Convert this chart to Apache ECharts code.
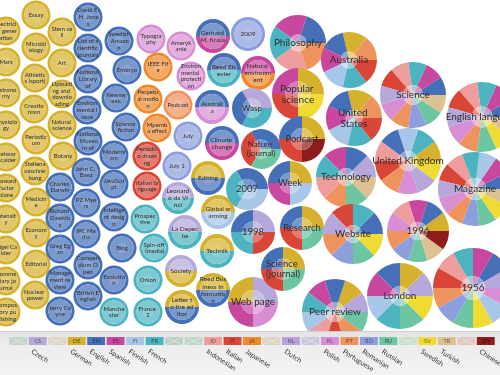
<!DOCTYPE html>
<html>
<head>
<meta charset="utf-8">
<script src="https://cdn.jsdelivr.net/npm/echarts@6/dist/echarts.min.js"></script>
<style>
  html, body { margin: 0; padding: 0; background: #fff; }
  #main { width: 500px; height: 375px; }
</style>
</head>
<body>
<div id="main"></div>
<script>
// one entry per topic circle: label, centre (x, y), radius, languages of its sectors
const topicNames = [
  'Electricity generation', 'Mars', 'Astronomy', 'Physiology', 'Network calder', 'Howard Factor plane', 'Intensity', 'Nigel Calder', 'Commentary journal', 'Compository publishing',
  'Essay', 'Microbiology', 'Athletics (sport)', 'Creationism', 'Periodicum', 'Stellenausschreibung', 'Medicine', 'Economy', 'Editorial', 'Nuclear power',
  'Stem cell', 'Art', 'Uploading and downloading', 'Natural science', 'Botany', 'Charles Darwin', 'Richard Dawkins', 'Greg Egan', 'Management review', 'Jerry Coyne',
  'David E. H. Jones', 'List of scientific journals', 'National Library of', 'Environmental issue', 'National Museum of', 'John C. Baez', 'PZ Myers', 'IPC Media', 'Compendium Open', 'British English',
  'Swedish Amazon', 'Embryo', 'Newsweek', 'Science fiction', 'Modernism', 'JavaScript', 'Intelligent design', 'Blog', 'Evolution', 'Manchester',
  'Typography', 'IEEE Fife', 'Perpetual motion', 'Mpemba effect', 'Periodico drawing', 'Italian language', 'Prospective', 'Spin-off (media)', 'Onion', 'France 2',
  'Amerykanie', 'Environmental protection', 'Podcast', 'July', 'July 1', 'Leonardo da Vinci', 'La Depeche', 'Society', 'Letter to the editor',
  'Gerhard M. Kraus', 'Reed Elsevier', 'Australia', 'Climate change', 'Editing', 'Global warming', 'Technik', 'Reed Business Information',
  '2009', 'Natural environment', 'Wasp', 'Nature (journal)', '2007', '1998', 'Web page',
  'Philosophy', 'Popular science', 'Podcast', 'Week', 'Research', 'Science (journal)', 'Peer review',
  'Australia', 'United States', 'Technology', 'Website',
  'Science', 'United Kingdom', '1996', 'London',
  'English language', 'Magazine', '1956'
];
const topicX = [
  6, 6, 6, 6, 6, 6, 6, 6, 6, 6,
  36, 36, 35, 34, 36, 35, 36, 36, 36, 35,
  62, 62, 62, 62, 63, 60, 60, 60, 60, 60,
  88, 88, 88, 87, 88, 86, 86, 86, 88, 88,
  119, 127, 116, 126, 114, 114, 114, 122, 114, 114,
  151, 158, 148, 157, 147, 147, 145, 154, 148, 148,
  181, 191, 178, 188, 177, 178, 185, 181, 182,
  213, 224, 212, 222, 208, 218, 217, 213,
  248, 258, 252, 261, 247, 253, 253,
  298, 298, 302, 290, 302, 283, 335,
  349, 354, 346, 353,
  413, 408, 418, 400,
  482, 475, 473
];
const topicY = [
  31, 62, 93, 125, 157, 188, 219, 250, 281, 312,
  15, 47, 78, 109, 140, 171, 202, 233, 264, 295,
  32, 63, 94, 125, 156, 187, 218, 249, 280, 311,
  17, 48, 79, 110, 141, 172, 203, 234, 265, 296,
  41, 70, 98, 127, 155, 184, 217, 248, 280, 312,
  39, 67, 99, 128, 156, 186, 219, 248, 280, 312,
  46, 76, 105, 136, 166, 198, 232, 271, 307,
  36, 70, 107, 143, 178, 212, 251, 290,
  34, 73, 108, 149, 189, 232, 302,
  43, 94, 139, 183, 228, 269, 312,
  60, 118, 177, 234,
  95, 161, 231, 296,
  117, 189, 288
];
const topicR = [
  14.5, 14.5, 14.5, 14.5, 14.5, 14.5, 14.5, 14.5, 14.5, 14.5,
  14.5, 14.5, 14.5, 14.5, 14.5, 14.5, 14.5, 14.5, 14.5, 14.5,
  14.5, 14.5, 14.5, 14.5, 14.5, 14.5, 14.5, 14.5, 14.5, 14.5,
  14.5, 14.5, 14.5, 14.5, 14.5, 14.5, 14.5, 14.5, 14.5, 14.5,
  14.5, 14.5, 14.5, 14.5, 14.5, 14.5, 14.5, 14.5, 14.5, 14.5,
  14.5, 14.5, 14.5, 14.5, 14.5, 14.5, 14.5, 14.5, 14.5, 14.5,
  14.5, 14.5, 14.5, 14.5, 14.5, 16, 17, 16, 17,
  17, 17, 17, 17, 17, 17, 17, 17,
  17, 17, 20, 20, 21, 22, 25,
  28, 26, 23, 22, 22, 22, 33,
  28, 28, 30, 30,
  33, 33, 31, 33,
  35, 37, 40
];
const DE = ['DE'], EN = ['EN'];
const topicLangs = [
  DE, DE, DE, DE, DE, DE, DE, DE, DE, DE,
  DE, DE, DE, DE, DE, DE, DE, DE, DE, DE,
  DE, DE, DE, DE, DE, EN, EN, EN, EN, EN,
  EN, EN, EN, EN, EN, EN, EN, EN, EN, EN,
  EN, EN, EN, EN, EN, EN, EN, EN, EN, ['FR'],
  ['PL'], ['JA'], ['JA'], ['JA'], ['IT'], ['IT'], ['FR'], ['FR'], ['FR'], ['FR'],
  ['PL'], ['PL'], ['PT'], ['RO'], ['RO'], ['CS', 'FR'], ['CS', 'FR'], ['CS', 'DE'], ['DE', 'EN'],
  ['EN', 'ES'], ['EN', 'FR'], ['EN', 'PL'], ['EN', 'ES'], ['DE', 'EN'], ['DE', 'FI'], ['DE', 'FR'], ['DE', 'EN'],
  ['RO'], ['ES', 'JA'], ['CS', 'EN', 'FR'], ['EN', 'IT', 'RU'], ['EN', 'FR', 'FI'], ['CS', 'EN', 'FR', 'IT'], ['CS', 'DE', 'ES', 'PL'],
  ['EN', 'ES', 'FR', 'ID', 'PT'], ['DE', 'ES', 'IT', 'SV'], ['DE', 'EN', 'IT', 'ZH'], ['DE', 'EN', 'ES', 'FI'], ['DE', 'EN', 'IT', 'RU'], ['DE', 'EN', 'IT', 'RU'],
  ['CS', 'DE', 'EN', 'ES', 'FR', 'FI', 'ID', 'IT', 'PT', 'RU'],
  ['PT', 'DE', 'EN', 'ES', 'FI', 'FR', 'IT'], ['PT', 'DE', 'EN', 'ES', 'FI', 'FR', 'IT'],
  ['CS', 'EN', 'ES', 'FR', 'ID', 'PT', 'RU', 'TR'], ['EN', 'FR', 'IT', 'CS', 'PT', 'RO', 'RU', 'SV'],
  ['EN', 'ES', 'FR', 'ID', 'IT', 'CS', 'PL', 'PT', 'RO', 'RU', 'TR'],
  ['DE', 'FR', 'FI', 'EN', 'ID', 'IT', 'PT', 'PL', 'CS', 'SV'],
  ['DE', 'EN', 'ES', 'ID', 'PL', 'PT', 'RO', 'RU', 'TR', 'ZH'],
  ['CS', 'DE', 'EN', 'ES', 'FI', 'FR', 'RU', 'SV'],
  ['EN', 'ES', 'FR', 'ID', 'IT', 'CS', 'PL', 'PT', 'RU', 'SV', 'TR'],
  ['EN', 'ES', 'FI', 'FR', 'ID', 'IT', 'CS', 'PL', 'PT', 'RO', 'RU', 'SV', 'TR'],
  ['CS', 'EN', 'ES', 'FR', 'ID', 'IT', 'PT', 'RO', 'RU', 'SV', 'FI', 'PL']
];

// legend slots (empty code = language without data)
const legendCodes = ['', 'CS', '', 'DE', 'EN', 'ES', 'FI', 'FR', '', '', 'ID', 'IT', 'JA', '', 'NL', '', 'PL', 'PT', 'RO', 'RU', '', 'SV', 'TR', '', 'ZH'];
const legendNames = ['', 'Czech', '', 'German', 'English', 'Spanish', 'Finnish', 'French', '', '', 'Indonesian', 'Italian', 'Japanese', '', 'Dutch', '', 'Polish', 'Portuguese', 'Romanian', 'Russian', '', 'Swedish', 'Turkish', '', 'Chinese'];

const langColor = {
  CS: '#b6a8da', DE: '#d6b12d', EN: '#4570b8', ES: '#c8489f', FI: '#a8c6e8', FR: '#4cb4c0',
  ID: '#ee9c9c', IT: '#d94638', JA: '#f0892c', NL: '#b8a0d8', PL: '#d88ed4', PT: '#ef935e',
  RO: '#8c9fdc', RU: '#6cc6a2', SV: '#f0da34', TR: '#dcc292', ZH: '#8e1c1c'
};
const emptyColors = ['#c3d5c9', '#ddd6c8', '#bcd0c6', '#c2d6c5', '#ddd3c4', '#c9c8db', '#c8dfcb', '#dfc8bf'];

function mix(hex, t, to) {
  const v = parseInt(hex.slice(1), 16);
  const tgt = to === undefined ? 255 : to;
  const ch = [(v >> 16) & 255, (v >> 8) & 255, v & 255].map((c) => Math.round(c + (tgt - c) * t));
  return 'rgb(' + ch.join(',') + ')';
}

function renderTopic(params, api) {
  const i = params.dataIndex;
  const c = api.coord([api.value(0), api.value(1)]);
  const r = api.size([api.value(2), 0])[0];
  const langs = topicLangs[i];
  const n = langs.length;
  const step = (Math.PI * 2) / n;
  const rin = n === 1 ? 0.8 : n === 2 ? 0.76 : n <= 4 ? 0.48 : 0.3;
  const children = [];
  langs.forEach((code, k) => {
    const col = langColor[code];
    const a0 = -(k + 1) * step, a1 = -k * step;
    children.push({
      type: 'sector',
      shape: { cx: c[0], cy: c[1], r0: r * rin, r: r, startAngle: a0, endAngle: a1, clockwise: true },
      style: { fill: col }
    });
    children.push({
      type: 'sector',
      shape: { cx: c[0], cy: c[1], r0: 0, r: r * rin, startAngle: a0, endAngle: a1, clockwise: true },
      style: { fill: mix(col, n > 4 ? 0.4 : 0.28) }
    });
  });
  children.push({
    type: 'circle',
    shape: { cx: c[0], cy: c[1], r: r * rin * 0.45 },
    style: { fill: 'rgba(255,255,255,0.12)' }
  });
  const fs = r < 16 ? 6 : r < 18 ? 6.5 : r < 21 ? 8 : r < 24 ? 9.5 : 10;
  const big = r >= 20;
  children.push({
    type: 'text',
    style: {
      text: topicNames[i],
      x: c[0], y: c[1],
      align: 'center', verticalAlign: 'middle',
      width: big ? r * 2.3 : r * 1.55,
      overflow: big ? 'break' : 'breakAll',
      lineHeight: fs * 1.1,
      font: fs + 'px Lato, sans-serif',
      fill: '#2e2e2e'
    }
  });
  return { type: 'group', children: children };
}

function renderLegend(params, api) {
  const i = params.dataIndex;
  const top = api.coord([i, 1]);
  const bot = api.coord([i, 0]);
  const bw = api.size([1, 0])[0];
  const x0 = top[0] - bw / 2 + 0.8, w = bw - 1.6, y0 = top[1], h = bot[1] - top[1];
  const code = legendCodes[i];
  const children = [];
  if (code) {
    const col = langColor[code];
    children.push({ type: 'rect', shape: { x: x0, y: y0, width: w, height: h }, style: { fill: col } });
    children.push({
      type: 'text',
      style: { text: code, x: x0 + w / 2, y: y0 + h / 2, align: 'center', verticalAlign: 'middle', font: '5.5px Lato, sans-serif', fill: mix(col, 0.55, 0) }
    });
    children.push({
      type: 'text',
      x: x0 + 5, y: y0 + h + 3, rotation: -0.57,
      style: { text: legendNames[i], x: 0, y: 0, align: 'left', verticalAlign: 'top', font: '7px Lato, sans-serif', fill: '#333' }
    });
  } else {
    const k = legendCodes.slice(0, i).filter((s) => !s).length;
    children.push({ type: 'rect', shape: { x: x0, y: y0, width: w, height: h }, style: { fill: emptyColors[k] } });
    children.push({ type: 'line', shape: { x1: x0, y1: y0, x2: x0 + w, y2: y0 + h }, style: { stroke: 'rgba(255,255,255,0.6)', lineWidth: 0.6 } });
    children.push({ type: 'line', shape: { x1: x0, y1: y0 + h, x2: x0 + w, y2: y0 }, style: { stroke: 'rgba(255,255,255,0.6)', lineWidth: 0.6 } });
  }
  return { type: 'group', children: children };
}

const chart = echarts.init(document.getElementById('main'));
chart.setOption({
  animation: false,
  backgroundColor: '#ffffff',
  graphic: [
    {
      type: 'rect', z: -10,
      shape: { x: 0, y: 331, width: 500, height: 44 },
      style: { fill: new echarts.graphic.LinearGradient(0, 0, 0, 1, [{ offset: 0, color: '#e2e2e2' }, { offset: 0.35, color: '#ededed' }, { offset: 1, color: '#f3f3f3' }]) }
    },
    { type: 'line', z: -9, shape: { x1: 0, y1: 331.5, x2: 500, y2: 331.5 }, style: { stroke: '#d0d0d0', lineWidth: 1 } }
  ],
  grid: [
    { left: 0, top: 0, width: 500, height: 331 },
    { left: 8.5, top: 337, width: 487, height: 8 }
  ],
  xAxis: [
    { type: 'value', gridIndex: 0, min: 0, max: 500, show: false },
    { type: 'category', gridIndex: 1, data: legendCodes.map((c, i) => c || 'x' + i), show: false }
  ],
  yAxis: [
    { type: 'value', gridIndex: 0, min: 0, max: 331, inverse: true, show: false },
    { type: 'value', gridIndex: 1, min: 0, max: 1, show: false }
  ],
  series: [
    {
      type: 'custom',
      xAxisIndex: 0, yAxisIndex: 0,
      clip: true,
      renderItem: renderTopic,
      data: topicNames.map((name, i) => [topicX[i], topicY[i], topicR[i]])
    },
    {
      type: 'custom',
      xAxisIndex: 1, yAxisIndex: 1,
      z: 5,
      renderItem: renderLegend,
      data: legendCodes.map((c, i) => [i, 1])
    }
  ]
});
</script>
</body>
</html>
